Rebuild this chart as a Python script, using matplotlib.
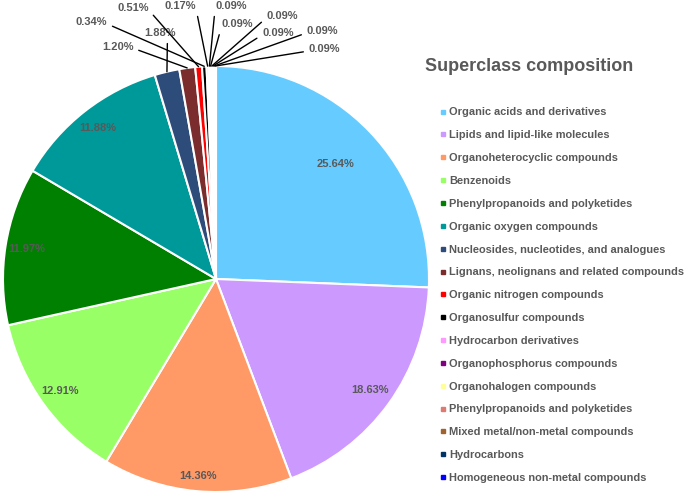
import numpy as np
import matplotlib
matplotlib.use('Agg')
import matplotlib.pyplot as plt
from matplotlib.lines import Line2D

plt.rcParams['font.family'] = ['Liberation Sans', 'DejaVu Sans']

# superclass categories and their share (%)
categorias = [
    'Organic acids and derivatives',
    'Lipids and lipid-like molecules',
    'Organoheterocyclic compounds',
    'Benzenoids',
    'Phenylpropanoids and polyketides',
    'Organic oxygen compounds',
    'Nucleosides, nucleotides, and analogues',
    'Lignans, neolignans and related compounds',
    'Organic nitrogen compounds',
    'Organosulfur compounds',
    'Hydrocarbon derivatives',
    'Organophosphorus compounds',
    'Organohalogen compounds',
    'Phenylpropanoids and polyketides',
    'Mixed metal/non-metal compounds',
    'Hydrocarbons',
    'Homogeneous non-metal compounds',
]
porcentajes = [25.64, 18.63, 14.36, 12.91, 11.97, 11.88, 1.88, 1.20,
               0.51, 0.34, 0.17, 0.09, 0.09, 0.09, 0.09, 0.09, 0.09]
colores = ['#66CCFF', '#CC99FF', '#FF9966', '#99FF66', '#008000', '#009999',
           '#2E4C7A', '#7B2C2C', '#FF0000', '#000000', '#FF99FF', '#800080',
           '#FFFF99', '#DD7A72', '#A0632E', '#003366', '#0000FF']

# radial position of the inside labels (big slices)
dist_etiqueta = [0.78, 0.89, 0.93, 0.90, 0.90, 0.90]
# outside label positions for the small slices (index -> x, y in pie units, line anchor)
pos_fuera = {
    6: (-0.265, 1.155, (0.75, 0.0)),
    7: (-0.462, 1.09, (1.0, 0.35)),
    8: (-0.39, 1.27, (1.0, 0.35)),
    9: (-0.585, 1.207, (1.0, 0.3)),
    10: (-0.169, 1.282, (1.0, 0.35)),
    11: (0.07, 1.282, (0.0, 0.3)),
    12: (0.10, 1.196, (0.0, 0.3)),
    13: (0.31, 1.235, (0.0, 0.3)),
    14: (0.29, 1.155, (0.0, 0.3)),
    15: (0.50, 1.165, (0.0, 0.3)),
    16: (0.51, 1.08, (0.0, 0.3)),
}

gris = '#595959'

fig = plt.figure(figsize=(6.85, 4.96), dpi=100)
ax = fig.add_axes([0, 0, 1, 1])

wedges, _ = ax.pie(porcentajes, colors=colores, startangle=90, counterclock=False,
                   radius=1.0, wedgeprops=dict(edgecolor='white', linewidth=1.5))

for i, w in enumerate(wedges):
    ang = np.deg2rad((w.theta1 + w.theta2) / 2)
    texto = f'{porcentajes[i]:.2f}%'
    if i < len(dist_etiqueta):
        d = dist_etiqueta[i]
        ax.text(d * np.cos(ang), d * np.sin(ang), texto, ha='center', va='center',
                fontsize=8, fontweight='bold', color=gris)
    else:
        tx, ty, rel = pos_fuera[i]
        ax.annotate(texto, xy=(np.cos(ang), np.sin(ang)), xytext=(tx, ty),
                    ha='center', va='center', fontsize=8, fontweight='bold', color=gris,
                    arrowprops=dict(arrowstyle='-', color='black', lw=1.0,
                                    shrinkA=2, shrinkB=0, relpos=rel))

ax.set_xlim(-216 / 213, (685 - 216) / 213)
ax.set_ylim((279 - 496) / 213, 279 / 213)
ax.set_aspect('auto')
ax.axis('off')

fig.text(425 / 685, 1 - 67 / 496, 'Superclass composition', ha='left', va='center',
         fontsize=13, fontweight='bold', color=gris)

manijas = [Line2D([], [], linestyle='none', marker='s', markersize=3.5,
                  markerfacecolor=c, markeredgecolor=c) for c in colores]
ax.legend(manijas, categorias, loc='upper left', bbox_to_anchor=(434 / 685, 1 - 102 / 496),
          bbox_transform=fig.transFigure, frameon=False,
          labelcolor=gris, prop={'weight': 'bold', 'size': 7.9},
          handlelength=0.6, handletextpad=0.3, labelspacing=1.17, borderpad=0)

fig.savefig('out.png', dpi=100)
